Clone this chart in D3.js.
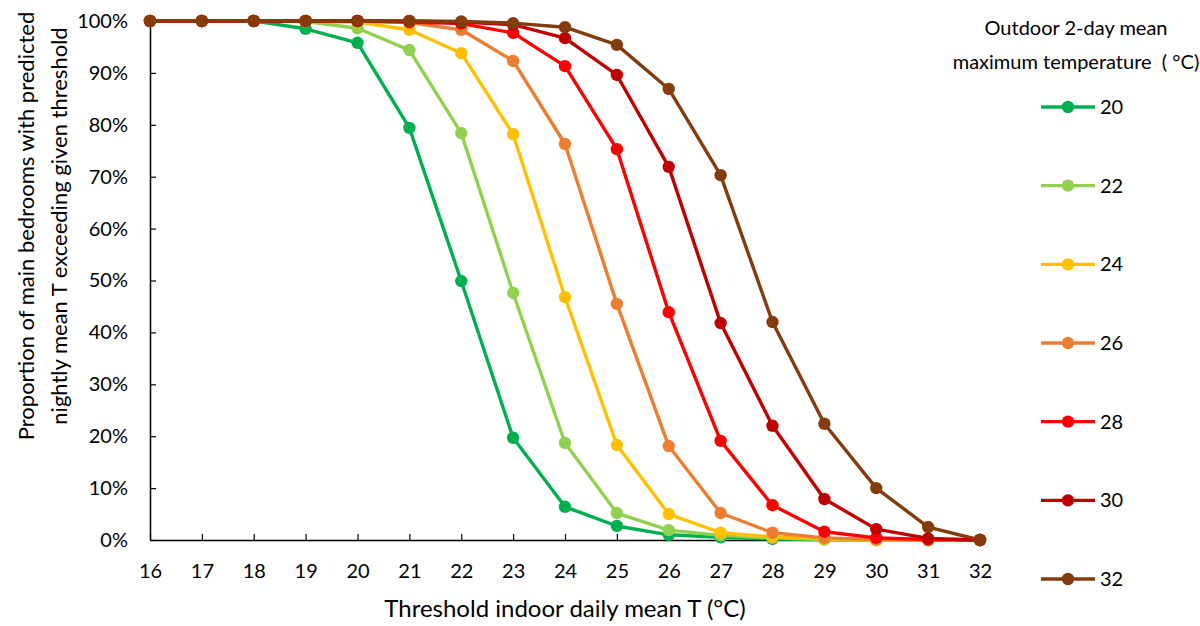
<!DOCTYPE html>
<meta charset="utf-8">
<script src="https://d3js.org/d3.v7.min.js"></script>
<style>
  body { margin: 0; background: #fff; }
  text { font-family: Lato, "Open Sans", sans-serif; fill: #000; }
</style>
<svg id="chart" width="1200" height="626"></svg>
<script>

// threshold indoor temperature (x)
var thresholds = [16, 17, 18, 19, 20, 21, 22, 23, 24, 25, 26, 27, 28, 29, 30, 31, 32];

// outdoor 2-day mean max temperature (series)
var outdoorTemps = ["20", "22", "24", "26", "28", "30", "32"];
var seriesColors = ["#00B050", "#92D050", "#FFC000", "#ED7D31", "#FF0000", "#C00000", "#843C0C"];

// proportion (%) per threshold, one array per series
var t20 = [100, 100, 100, 98.5, 95.8, 79.4, 49.9, 19.7, 6.4, 2.7, 1.0, 0.5, 0.2, 0.1, 0, 0, 0];
var t22 = [100, 100, 100, 99.9, 98.6, 94.4, 78.4, 47.6, 18.7, 5.2, 1.9, 0.9, 0.4, 0.1, 0, 0, 0];
var t24 = [100, 100, 100, 100, 99.8, 98.3, 93.8, 78.2, 46.8, 18.3, 5.0, 1.4, 0.6, 0.2, 0, 0, 0];
var t26 = [100, 100, 100, 100, 100, 99.7, 98.3, 92.3, 76.3, 45.5, 18.1, 5.2, 1.4, 0.4, 0.1, 0, 0];
var t28 = [100, 100, 100, 100, 100, 99.8, 99.5, 97.7, 91.3, 75.3, 43.9, 19.1, 6.7, 1.6, 0.4, 0.1, 0];
var t30 = [100, 100, 100, 100, 100, 100, 99.8, 99.3, 96.7, 89.6, 71.9, 41.8, 22.0, 7.9, 2.1, 0.3, 0];
var t32 = [100, 100, 100, 100, 100, 100, 99.9, 99.6, 98.8, 95.4, 86.9, 70.3, 42.0, 22.4, 10.0, 2.5, 0];

var yTicks = [0, 10, 20, 30, 40, 50, 60, 70, 80, 90, 100];

var allSeries = [t20, t22, t24, t26, t28, t30, t32];

var svg = d3.select("#chart");

// plot area
var plotLeft = 150, plotRight = 980, plotTop = 21, plotBottom = 540;

var x = d3.scaleLinear().domain([16, 32]).range([plotLeft, plotRight]);
var y = d3.scaleLinear().domain([0, 100]).range([plotBottom, plotTop]);

// y axis (ticks point inward)
var yAxis = svg.append("g")
  .attr("transform", "translate(" + plotLeft + ",0)")
  .call(d3.axisLeft(y).tickValues(yTicks).tickSizeInner(-6).tickSizeOuter(0)
    .tickFormat(function(d) { return d + "%"; }));
yAxis.select(".domain").attr("stroke", "#000").attr("stroke-width", 1.5);
yAxis.selectAll(".tick line").attr("stroke", "#000").attr("stroke-width", 1.2);
yAxis.selectAll(".tick text").attr("x", -22).attr("font-size", 20);

// x axis
var xAxis = svg.append("g")
  .attr("transform", "translate(0," + plotBottom + ")")
  .call(d3.axisBottom(x).tickValues(thresholds).tickSizeInner(-6).tickSizeOuter(0)
    .tickFormat(d3.format("d")));
xAxis.select(".domain").attr("stroke", "#000").attr("stroke-width", 1.5);
xAxis.selectAll(".tick line").attr("stroke", "#000").attr("stroke-width", 1.2);
xAxis.selectAll(".tick text").attr("y", 32).attr("dy", "0.32em").attr("font-size", 20);

// axis titles
svg.append("text")
  .attr("x", (plotLeft + plotRight) / 2).attr("y", 617)
  .attr("text-anchor", "middle").attr("font-size", 24)
  .text("Threshold indoor daily mean T (°C)");

var yTitle = svg.append("text")
  .attr("transform", "translate(0,226) rotate(-90)")
  .attr("text-anchor", "middle").attr("font-size", 22);
yTitle.append("tspan").attr("x", 0).attr("y", 34)
  .text("Proportion of main bedrooms with predicted");
yTitle.append("tspan").attr("x", 0).attr("y", 67)
  .text("nightly mean T exceeding given threshold");

// lines + markers
var line = d3.line()
  .x(function(d, i) { return x(thresholds[i]); })
  .y(function(d) { return y(d); });

allSeries.forEach(function(vals, k) {
  var g = svg.append("g");
  g.append("path")
    .datum(vals)
    .attr("d", line)
    .attr("fill", "none")
    .attr("stroke", seriesColors[k])
    .attr("stroke-width", 3.4)
    .attr("stroke-linejoin", "round");
  g.selectAll("circle")
    .data(vals)
    .enter()
    .append("circle")
      .attr("cx", function(d, i) { return x(thresholds[i]); })
      .attr("cy", function(d) { return y(d); })
      .attr("r", 6.2)
      .attr("fill", seriesColors[k]);
});

// legend
var legTitle = svg.append("text")
  .attr("text-anchor", "middle").attr("font-size", 20)
  .style("white-space", "pre");
legTitle.append("tspan").attr("x", 1076).attr("y", 35).text("Outdoor 2-day mean");
legTitle.append("tspan").attr("x", 1076).attr("y", 69).text("maximum temperature  ( °C)");

var legY = d3.scalePoint().domain(outdoorTemps).range([107, 579]);

var leg = svg.selectAll(".leg")
  .data(outdoorTemps)
  .enter()
  .append("g")
    .attr("class", "leg")
    .attr("transform", function(d) { return "translate(0," + legY(d) + ")"; });
leg.append("line")
  .attr("x1", 1041).attr("x2", 1095)
  .attr("stroke", function(d, i) { return seriesColors[i]; })
  .attr("stroke-width", 3.4);
leg.append("circle")
  .attr("cx", 1068).attr("r", 6.2)
  .attr("fill", function(d, i) { return seriesColors[i]; });
leg.append("text")
  .attr("x", 1100).attr("dy", "0.35em").attr("font-size", 20)
  .text(function(d) { return d; });

</script>
